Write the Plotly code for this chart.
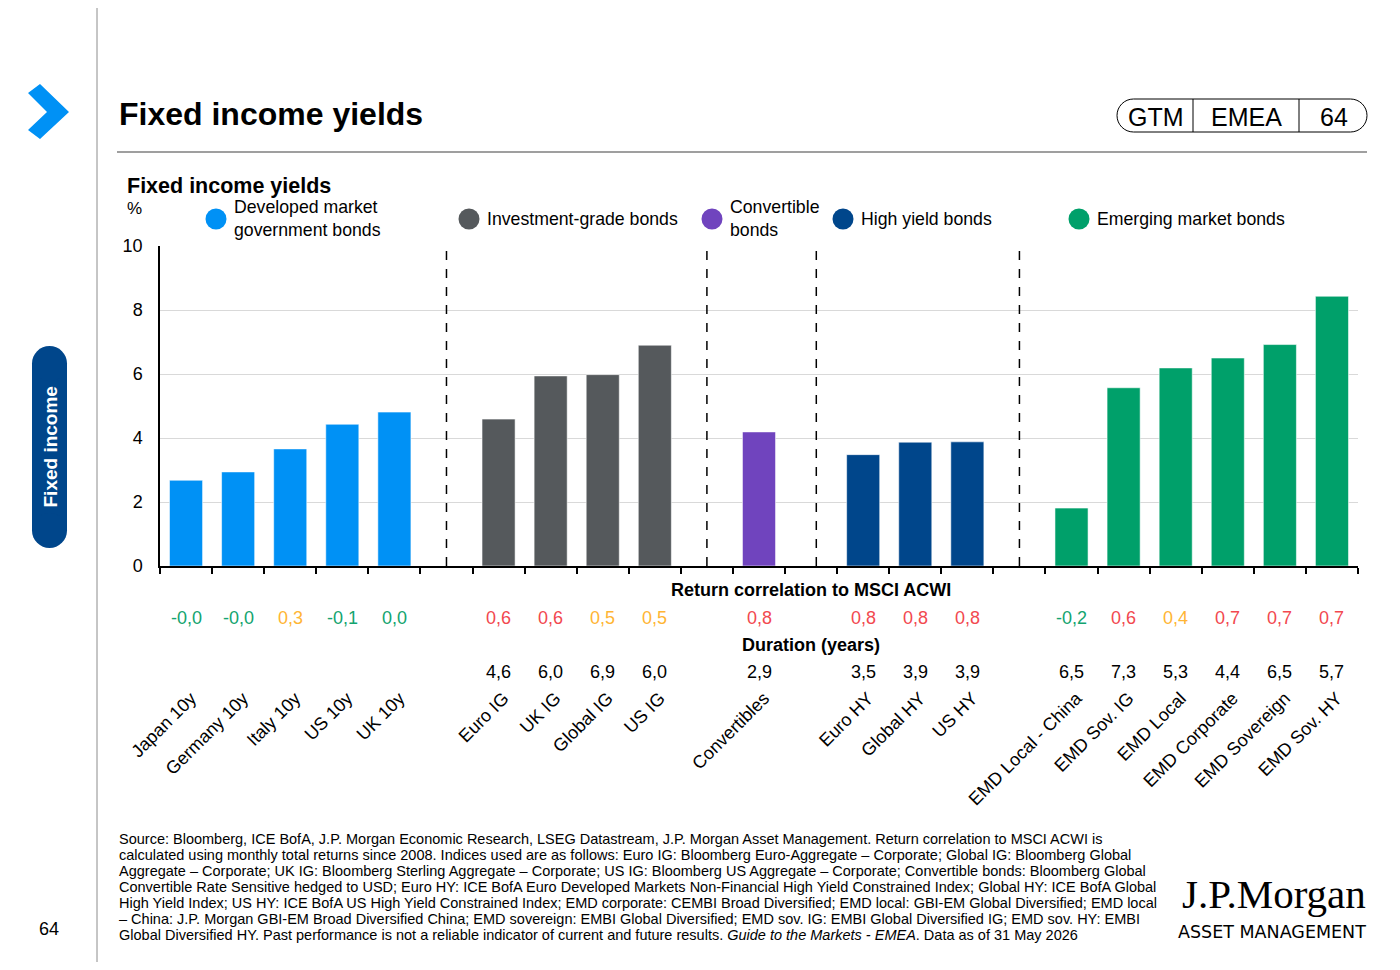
import plotly.graph_objects as go

# ---- data ----
dm_labels = ["Japan 10y", "Germany 10y", "Italy 10y", "US 10y", "UK 10y"]
dm_yield = [2.68, 2.94, 3.66, 4.43, 4.81]
dm_corr = [-0.0, -0.0, 0.3, -0.1, 0.0]

ig_labels = ["Euro IG", "UK IG", "Global IG", "US IG"]
ig_yield = [4.59, 5.94, 5.98, 6.90]
ig_corr = [0.6, 0.6, 0.5, 0.5]
ig_dur = [4.6, 6.0, 6.9, 6.0]

cv_labels = ["Convertibles"]
cv_yield = [4.19]
cv_corr = [0.8]
cv_dur = [2.9]

hy_labels = ["Euro HY", "Global HY", "US HY"]
hy_yield = [3.48, 3.87, 3.88]
hy_corr = [0.8, 0.8, 0.8]
hy_dur = [3.5, 3.9, 3.9]

em_labels = ["EMD Local - China", "EMD Sov. IG", "EMD Local", "EMD Corporate", "EMD Sovereign", "EMD Sov. HY"]
em_yield = [1.81, 5.57, 6.19, 6.50, 6.92, 8.43]
em_corr = [-0.2, 0.6, 0.4, 0.7, 0.7, 0.7]
em_dur = [6.5, 7.3, 5.3, 4.4, 6.5, 5.7]

group_names = ["Developed market<br>government bonds", "Investment-grade bonds",
               "Convertible<br>bonds", "High yield bonds", "Emerging market bonds"]
group_colors = ["#0091F5", "#55595C", "#7044BE", "#00468B", "#00A06A"]

footnote_lines = [
    "Source: Bloomberg, ICE BofA, J.P. Morgan Economic Research, LSEG Datastream, J.P. Morgan Asset Management. Return correlation to MSCI ACWI is",
    "calculated using monthly total returns since 2008. Indices used are as follows: Euro IG: Bloomberg Euro-Aggregate \u2013 Corporate; Global IG: Bloomberg Global",
    "Aggregate \u2013 Corporate; UK IG: Bloomberg Sterling Aggregate \u2013 Corporate; US IG: Bloomberg US Aggregate \u2013 Corporate; Convertible bonds: Bloomberg Global",
    "Convertible Rate Sensitive hedged to USD; Euro HY: ICE BofA Euro Developed Markets Non-Financial High Yield Constrained Index; Global HY: ICE BofA Global",
    "High Yield Index; US HY: ICE BofA US High Yield Constrained Index; EMD corporate: CEMBI Broad Diversified; EMD local: GBI-EM Global Diversified; EMD local",
    "\u2013 China: J.P. Morgan GBI-EM Broad Diversified China; EMD sovereign: EMBI Global Diversified; EMD sov. IG: EMBI Global Diversified IG; EMD sov. HY: EMBI",
    "Global Diversified HY. Past performance is not a reliable indicator of current and future results. <i>Guide to the Markets - EMEA</i>. Data as of 31 May 2026",
]

# ---- layout helpers (page pixels -> paper coords) ----
# the page body has an 8px margin, so the figure is 16px smaller than the window
BODY = 8
PX0, PX1, PY0, PY1 = 160, 1358, 246, 566   # plot area in page pixels
W, H = 1400 - 2 * BODY, 970 - 2 * BODY
L, T = PX0 - BODY, PY0 - BODY
R, B = W - (PX1 - BODY), H - (PY1 - BODY)
PW, PH = PX1 - PX0, PY1 - PY0
FONT = "Liberation Sans, Arial, sans-serif"


def px(x):
    return (x - PX0) / PW


def py(y):
    return (PY1 - y) / PH


def fmt(v):
    return f"{v:.1f}".replace(".", ",")


def corr_color(v):
    if v < 0.3:
        return "#13A46F"
    if v < 0.6:
        return "#FFB534"
    return "#F2484F"


def text(x, y, s, size=18, color="#000", xanchor="center", **kw):
    return dict(x=px(x), y=py(y), xref="paper", yref="paper", text=s, showarrow=False,
                xanchor=xanchor, yanchor="middle", align="left",
                font=dict(size=size, color=color, family=kw.pop("family", FONT)), **kw)


groups = [
    (dm_labels, dm_yield, dm_corr, None),
    (ig_labels, ig_yield, ig_corr, ig_dur),
    (cv_labels, cv_yield, cv_corr, cv_dur),
    (hy_labels, hy_yield, hy_corr, hy_dur),
    (em_labels, em_yield, em_corr, em_dur),
]

# category slots with an empty slot between groups
slots, slot_text, gap_idx = [], [], []
for i, (labels, _, _, _) in enumerate(groups):
    if i > 0:
        gap_idx.append(len(slots))
        slots.append(f"gap{i}")
        slot_text.append("")
    slots += labels
    slot_text += labels

fig = go.Figure()
for (labels, yields, _, _), name, col in zip(groups, group_names, group_colors):
    fig.add_trace(go.Bar(x=labels, y=yields, name=name, marker_color=col,
                         marker_line=dict(width=1, color="rgba(255,255,255,0.55)"),
                         showlegend=False))

ann = []
shapes = []

# correlation and duration rows
for labels, _, corr, dur in groups:
    for j, lab in enumerate(labels):
        ann.append(dict(x=lab, xref="x", y=py(618), yref="paper", yanchor="middle",
                        text=fmt(corr[j]), showarrow=False,
                        font=dict(size=18, color=corr_color(corr[j]))))
        if dur is not None:
            ann.append(dict(x=lab, xref="x", y=py(672), yref="paper", yanchor="middle",
                            text=fmt(dur[j]), showarrow=False, font=dict(size=18, color="#000")))

ann.append(text(811, 590, "<b>Return correlation to MSCI ACWI</b>"))
ann.append(text(811, 645, "<b>Duration (years)</b>"))

# dashed separators
sep_pos = [gap_idx[0], gap_idx[1], gap_idx[2] + 0.1, gap_idx[3]]
for g in sep_pos:
    shapes.append(dict(type="line", xref="x", yref="y", x0=g, x1=g, y0=0, y1=10,
                       line=dict(color="#000", width=1.5, dash="dash")))

# legend (circles + text)
leg_x = [216, 469, 712, 843, 1079]
for cx, name, col in zip(leg_x, group_names, group_colors):
    shapes.append(dict(type="circle", xref="paper", yref="paper", fillcolor=col,
                       line=dict(width=0), x0=px(cx - 10.5), x1=px(cx + 10.5),
                       y0=py(219 + 10.5), y1=py(219 - 10.5)))
    ann.append(text(cx + 16, 219, name, size=17.7, xanchor="left"))

# chart headings
ann.append(text(125, 186, "<b>Fixed income yields</b>", size=21.5, xanchor="left"))
ann.append(text(125, 209, "%", size=17, xanchor="left"))

# page frame: title, rule, left line, chevron, tab, page badge
ann.append(text(117, 114, "<b>Fixed income yields</b>", size=32, xanchor="left"))
shapes.append(dict(type="line", xref="paper", yref="paper", x0=px(117), x1=px(1367),
                   y0=py(152), y1=py(152), line=dict(color="#7f7f7f", width=1.5)))
shapes.append(dict(type="line", xref="paper", yref="paper", x0=px(97), x1=px(97),
                   y0=py(0), y1=py(970), line=dict(color="#8c8c8c", width=1)))

chev = [(28, 93), (40, 84), (69, 112), (40, 139), (28, 130), (47, 112)]
path = "M" + " L".join(f"{px(a)},{py(b)}" for a, b in chev) + " Z"
shapes.append(dict(type="path", xref="paper", yref="paper", path=path,
                   fillcolor="#0091F5", line=dict(width=0)))

tab_col = "#00468B"
shapes.append(dict(type="rect", xref="paper", yref="paper", x0=px(32), x1=px(67),
                   y0=py(531), y1=py(363), fillcolor=tab_col, line=dict(width=0)))
for cy in (363.5, 530.5):
    shapes.append(dict(type="circle", xref="paper", yref="paper", x0=px(32), x1=px(67),
                       y0=py(cy + 17.5), y1=py(cy - 17.5), fillcolor=tab_col, line=dict(width=0)))
ann.append(text(49.5, 447, "<b>Fixed income</b>", size=19, color="#fff", textangle=-90))
ann.append(text(49, 929, "64", size=18))

# GTM | EMEA | 64 badge
x0b, x1b, y0b, y1b, r = 1117, 1367, 99, 132, 16.5
k = 0.5523 * r
pts = [
    f"M{px(x0b + r)},{py(y0b)}", f"L{px(x1b - r)},{py(y0b)}",
    f"C{px(x1b - r + k)},{py(y0b)} {px(x1b)},{py(y0b + r - k)} {px(x1b)},{py(y0b + r)}",
    f"C{px(x1b)},{py(y1b - r + k)} {px(x1b - r + k)},{py(y1b)} {px(x1b - r)},{py(y1b)}",
    f"L{px(x0b + r)},{py(y1b)}",
    f"C{px(x0b + r - k)},{py(y1b)} {px(x0b)},{py(y1b - r + k)} {px(x0b)},{py(y1b - r)}",
    f"C{px(x0b)},{py(y0b + r - k)} {px(x0b + r - k)},{py(y0b)} {px(x0b + r)},{py(y0b)}", "Z",
]
shapes.append(dict(type="path", xref="paper", yref="paper", path=" ".join(pts),
                   line=dict(color="#000", width=1)))
for xd in (1193, 1299):
    shapes.append(dict(type="line", xref="paper", yref="paper", x0=px(xd), x1=px(xd),
                       y0=py(y0b), y1=py(y1b), line=dict(color="#000", width=1)))
for xt, t in ((1156, "GTM"), (1246, "EMEA"), (1334, "64")):
    ann.append(text(xt, 117, t, size=25))

# footnote
for i, line in enumerate(footnote_lines):
    ann.append(text(117, 839 + 16 * i, line, size=14.5, xanchor="left"))

# logo
ann.append(text(1368, 894, "J.P.Morgan", size=41, xanchor="right",
                family="Liberation Serif, Times New Roman, serif"))
ann.append(text(1368, 932, "ASSET MANAGEMENT", size=17.5, xanchor="right",
                family="DejaVu Sans, sans-serif"))

fig.update_layout(
    width=W, height=H,
    margin=dict(l=L, r=R, t=T, b=B, pad=0),
    paper_bgcolor="#fff", plot_bgcolor="#fff",
    font=dict(family=FONT, size=18, color="#000"),
    barmode="relative", bargap=0.365,
    annotations=ann, shapes=shapes,
    xaxis=dict(type="category", categoryorder="array", categoryarray=slots,
               tickmode="array", tickvals=slots, ticktext=slot_text,
               tickangle=-45, tickson="boundaries", ticks="outside", ticklen=6,
               tickcolor="#000", tickwidth=1.5, showline=True, linecolor="#000", linewidth=1.5,
               showgrid=False, ticklabelstandoff=113, ticklabelshift=5, tickfont=dict(size=18)),
    yaxis=dict(range=[0, 10], dtick=2, showgrid=True, gridcolor="#d9d9d9", gridwidth=1,
               zeroline=False, showline=True, linecolor="#000", linewidth=1.5,
               ticks="", tickfont=dict(size=18), ticklabelstandoff=12),
)

fig.write_html("out.html")
